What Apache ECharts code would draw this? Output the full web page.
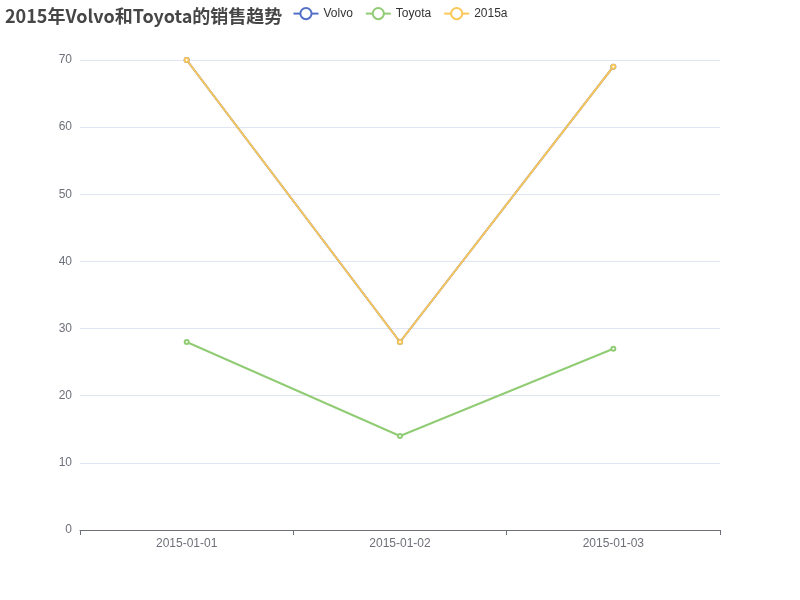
<!DOCTYPE html>
<html><head><meta charset="utf-8">
<script src="https://cdn.jsdelivr.net/npm/echarts@6/dist/echarts.min.js"></script>
<style>html,body{margin:0;padding:0;background:#fff}#c{width:800px;height:600px}</style>
</head><body><div id="c"></div>
<script>
const categories = ['2015-01-01', '2015-01-02', '2015-01-03'];
const volvo = [70, 28, 69];
const toyota = [28, 14, 27];
const s2015a = [70, 28, 69];
const chart = echarts.init(document.getElementById('c'));
chart.setOption({
  title: { text: '2015年Volvo和Toyota的销售趋势', left: 0, top: 2, textStyle: { fontSize: 18, fontWeight: 'bold', color: '#464646', fontFamily: 'Noto Sans CJK SC, sans-serif' } },
  legend: { data: ['Volvo', 'Toyota', '2015a'], top: 2, itemGap: 12, textStyle: { color: '#333', fontSize: 12 } },
  color: ['#5470c6', '#91cc75', '#fac858'],
  grid: { left: 80, right: 80, top: 60, bottom: 70 },
  xAxis: {
    type: 'category', data: categories, boundaryGap: true,
    axisLine: { lineStyle: { color: '#6E7079' } },
    axisTick: { show: true, alignWithLabel: false, lineStyle: { color: '#6E7079' } },
    axisLabel: { color: '#6E7079', fontSize: 12 }
  },
  yAxis: {
    type: 'value', min: 0, max: 70, interval: 10,
    axisLabel: { color: '#6E7079', fontSize: 12 },
    splitLine: { lineStyle: { color: '#E0E6F1' } }
  },
  series: [
    { name: 'Volvo', type: 'line', data: volvo, symbolSize: 4 },
    { name: 'Toyota', type: 'line', data: toyota, symbolSize: 4 },
    { name: '2015a', type: 'line', data: s2015a, symbolSize: 4 }
  ]
});
</script></body></html>
